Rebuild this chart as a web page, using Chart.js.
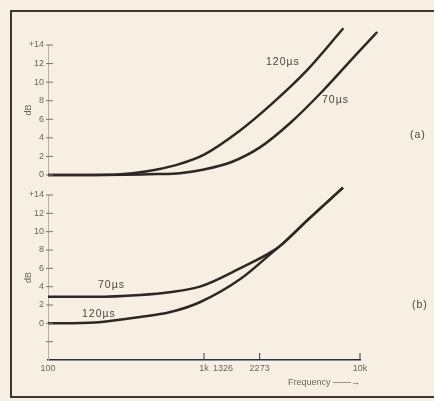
<!DOCTYPE html>
<html lang="en">
<head>
<meta charset="UTF-8">
<title>Pre-emphasis response</title>
<script src="https://cdn.jsdelivr.net/npm/chart.js"></script>
<style>
  body {
    margin: 0;
    width: 434px;
    height: 401px;
    overflow: hidden;
    position: relative;
    background: #f6efe2;
    font-family: "Liberation Sans", Arial, sans-serif;
  }
  .frame {
    position: absolute;
    left: 10px;
    top: 10px;
    width: 430px;
    height: 388px;
    border: 2px solid #3b3733;
    border-right: none;
    box-sizing: border-box;
  }
  canvas { position: absolute; left: 0; }
  #chartA { top: 0; }
  #chartB { top: 185px; }
  .lbl {
    position: absolute;
    font-size: 10.5px;
    color: #4a4540;
    letter-spacing: 1px;
    white-space: nowrap;
  }
</style>
</head>
<body>
  <div class="frame"></div>
  <canvas id="chartA" width="434" height="185"></canvas>
  <canvas id="chartB" width="434" height="216"></canvas>

  <div class="lbl" style="left:266px; top:55px;">120µs</div>
  <div class="lbl" style="left:322px; top:93px;">70µs</div>
  <div class="lbl" style="left:410px; top:128px;">(a)</div>
  <div class="lbl" style="left:98px; top:278px;">70µs</div>
  <div class="lbl" style="left:82px; top:307px;">120µs</div>
  <div class="lbl" style="left:412px; top:298px;">(b)</div>

<script>
  // panel (a) (Hz, dB)
  const freqA120 = [100, 200, 350, 500, 700, 1000, 1700, 2770, 4570, 7800];
  const dbA120   = [0, 0, 0.2, 0.6, 1.2, 2.2, 4.8, 7.8, 11.3, 15.8];
  const freqA70  = [100, 200, 500, 700, 1000, 1500, 2290, 3560, 5790, 9570, 12850];
  const dbA70    = [0, 0, 0.1, 0.2, 0.6, 1.4, 3.0, 5.6, 9.1, 13.1, 15.4];

  // panel (b)
  const freqB  = [100, 200, 390, 600, 940, 1700, 2770, 3200, 4570, 7780];
  const dbB70  = [2.9, 2.9, 3.1, 3.4, 4.0, 6.0, 7.9, 8.7, 11.2, 14.8];
  const dbB120 = [0, 0.1, 0.7, 1.2, 2.3, 4.8, 7.8, 8.7, 11.2, 14.8];

  // frequency axis
  const freqTicks = [100, 1000, 1326, 2273, 10000];
  const freqTickLabels = ['100', '1k', '1326', '2273', '10k'];
  const freqTickMarks = [1000, 2273, 10000];

  Chart.defaults.font.family = '"Liberation Sans", Arial, sans-serif';
  Chart.defaults.font.size = 9;
  Chart.defaults.color = '#6b655e';

  const toPoints = (xs, ys) => xs.map((f, i) => ({ x: f, y: ys[i] }));

  const curve = (data) => ({
    data: data,
    borderColor: '#2d2824',
    borderWidth: 2.5,
    pointRadius: 0,
    cubicInterpolationMode: 'monotone',
    clip: false
  });

  // small tick marks that sit inside the plot, like the printed figure
  const innerTicks = {
    id: 'innerTicks',
    afterDraw(chart) {
      const ctx = chart.ctx;
      const y = chart.scales.y;
      const x = chart.scales.x;
      ctx.save();
      ctx.strokeStyle = '#7a746c';
      ctx.lineWidth = 1;
      y.ticks.forEach(t => {
        if (t.value < -3) return;
        const py = y.getPixelForValue(t.value);
        ctx.beginPath();
        ctx.moveTo(y.right - 2, py);
        ctx.lineTo(y.right + 5, py);
        ctx.stroke();
      });
      if (x.options.display) {
        ctx.strokeStyle = '#3a3650';
        freqTickMarks.forEach(v => {
          const px = x.getPixelForValue(v);
          ctx.beginPath();
          ctx.moveTo(px, chart.chartArea.bottom);
          ctx.lineTo(px, chart.chartArea.bottom - 7);
          ctx.stroke();
        });
      }
      ctx.restore();
    }
  };

  const yAxis = (min) => ({
    min: min,
    max: 14,
    afterFit: s => { s.width = 48; },
    border: { color: '#b8b0a4', width: 1 },
    grid: { drawOnChartArea: false, drawTicks: false },
    ticks: {
      stepSize: 2,
      padding: 4,
      callback: v => v === 14 ? '+14' : (v < 0 ? '' : String(v))
    },
    title: {
      display: true,
      text: 'dB',
      font: { size: 9 },
      padding: { top: 23, bottom: 0 }
    }
  });

  const baseOptions = {
    responsive: false,
    animation: false,
    devicePixelRatio: 1,
    plugins: { legend: { display: false }, tooltip: { enabled: false } }
  };

  // top panel: x range runs a little past 10k so the 70µs curve can finish
  new Chart(document.getElementById('chartA'), {
    type: 'line',
    data: {
      datasets: [
        curve(toPoints(freqA120, dbA120)),
        curve(toPoints(freqA70, dbA70))
      ]
    },
    options: Object.assign({}, baseOptions, {
      layout: { padding: { left: 0, right: 56, top: 45, bottom: 10 } },
      scales: {
        x: { type: 'logarithmic', min: 100, max: 13000, display: false },
        y: yAxis(0)
      }
    }),
    plugins: [innerTicks]
  });

  new Chart(document.getElementById('chartB'), {
    type: 'line',
    data: {
      datasets: [
        curve(toPoints(freqB, dbB70)),
        curve(toPoints(freqB, dbB120))
      ]
    },
    options: Object.assign({}, baseOptions, {
      layout: { padding: { left: 0, right: 74, top: 10, bottom: 0 } },
      scales: {
        x: {
          type: 'logarithmic',
          min: 100,
          max: 10000,
          afterFit: s => { s.height = 41; },
          afterBuildTicks: s => { s.ticks = freqTicks.map(v => ({ value: v })); },
          border: { color: '#2c2a4a', width: 1.6 },
          grid: { drawOnChartArea: false, drawTicks: false },
          ticks: {
            autoSkip: false,
            maxRotation: 0,
            padding: 3,
            callback: (v, i) => freqTickLabels[i]
          },
          title: {
            display: true,
            text: 'Frequency ——→',
            align: 'end',
            font: { size: 9 },
            padding: { top: 0, bottom: 13 }
          }
        },
        y: yAxis(-4)
      }
    }),
    plugins: [innerTicks]
  });
</script>
</body>
</html>
